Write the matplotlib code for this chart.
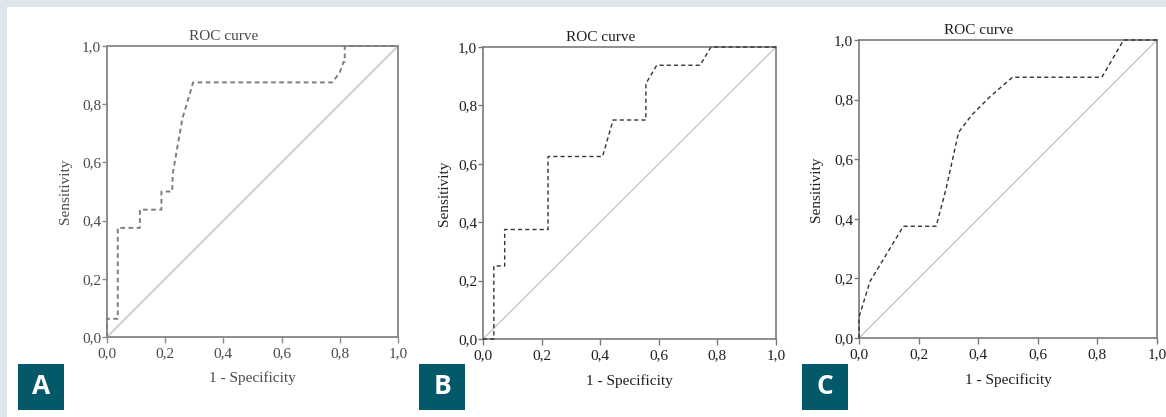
import matplotlib.pyplot as plt
from matplotlib.patches import Rectangle

# ---- data ----
tick_vals = [0.0, 0.2, 0.4, 0.6, 0.8, 1.0]
tick_labels = ["0,0", "0,2", "0,4", "0,6", "0,8", "1,0"]

a_fpr = [0.0, 0.0, 0.037, 0.037, 0.113, 0.113, 0.187, 0.187, 0.224, 0.226,
         0.259, 0.296, 0.775, 0.800, 0.813, 0.817, 0.817, 1.0]
a_tpr = [0.0, 0.0625, 0.0625, 0.375, 0.375, 0.4375, 0.4375, 0.5, 0.5, 0.5625,
         0.75, 0.875, 0.875, 0.91, 0.945, 0.945, 1.0, 1.0]

b_fpr = [0.0, 0.037, 0.037, 0.074, 0.074, 0.222, 0.222, 0.408, 0.444, 0.556,
         0.556, 0.593, 0.741, 0.778, 1.0]
b_tpr = [0.0, 0.0, 0.25, 0.25, 0.375, 0.375, 0.625, 0.625, 0.75, 0.75,
         0.875, 0.9375, 0.9375, 1.0, 1.0]

c_fpr = [0.0, 0.0, 0.037, 0.149, 0.259, 0.292, 0.334, 0.38, 0.44, 0.515,
         0.815, 0.888, 1.0]
c_tpr = [0.0, 0.07, 0.19, 0.375, 0.375, 0.5, 0.69, 0.75, 0.81, 0.875,
         0.875, 1.0, 1.0]

panel_letters = ["A", "B", "C"]

# ---- figure ----
W, H = 1166, 417
fig = plt.figure(figsize=(W / 100, H / 100), dpi=100)
fig.patch.set_facecolor("white")

# light frame strips (top / left)
fig.patches.append(Rectangle((0, 1 - 7 / H), 1, 7 / H, transform=fig.transFigure,
                             facecolor="#dce6ec", edgecolor="none", zorder=0))
fig.patches.append(Rectangle((0, 0), 7 / W, 1, transform=fig.transFigure,
                             facecolor="#dce6ec", edgecolor="none", zorder=0))

serif = ["Liberation Serif", "DejaVu Serif"]

# axes boxes in pixels: left, top, right, bottom
boxes = [(107, 46, 398, 337), (483, 47, 776, 339), (859, 40, 1157, 338)]
curves = [(a_fpr, a_tpr), (b_fpr, b_tpr), (c_fpr, c_tpr)]
ylab_x = [-0.144, -0.13, -0.144]
xlab_y = [-0.141, -0.144, -0.141]
label_box_x = [18, 419, 802]

for i, (l, t, r, b) in enumerate(boxes):
    ax = fig.add_axes([l / W, (H - b) / H, (r - l) / W, (b - t) / H])
    fpr, tpr = curves[i]
    if i == 0:
        # panel A is a softer, blurrier scan
        spine_c, text_c, curve_c, diag_c = "#8c8c8c", "#4a4a4a", "#7e7e7e", "#c8c8c8"
        curve_lw, diag_lw, spine_lw = 1.4, 1.2, 1.4
    else:
        spine_c, text_c, curve_c, diag_c = "#7a7a7a", "#1e1e1e", "#333333", "#bdbdbd"
        curve_lw, diag_lw, spine_lw = 1.0, 0.8, 1.2

    ax.plot([0, 1], [0, 1], color=diag_c, lw=diag_lw, zorder=1)
    line, = ax.plot(fpr, tpr, color=curve_c, lw=curve_lw, zorder=3, clip_on=False)
    line.set_dashes((3, 2.2) if i else (2.4, 1.8))

    ax.set_xlim(0, 1)
    ax.set_ylim(0, 1)
    ax.set_xticks(tick_vals)
    ax.set_yticks(tick_vals)
    ax.set_xticklabels(tick_labels, fontfamily=serif, fontsize=11, color=text_c)
    ax.set_yticklabels(tick_labels, fontfamily=serif, fontsize=11, color=text_c)
    ax.tick_params(axis="y", direction="out", length=3.8, width=1.0, color=spine_c, pad=0.5)
    ax.tick_params(axis="x", direction="out", length=4.5, width=1.0, color=spine_c, pad=2.5)
    for s in ax.spines.values():
        s.set_color(spine_c)
        s.set_linewidth(spine_lw)

    ax.set_ylabel("Sensitivity", fontfamily=serif, fontsize=11, color=text_c, va="center")
    ax.yaxis.set_label_coords(ylab_x[i], 0.5)
    ax.set_xlabel("1 - Specificity", fontfamily=serif, fontsize=11, color=text_c, va="center")
    ax.xaxis.set_label_coords(0.5, xlab_y[i])
    ax.annotate("ROC curve", xy=(0.40, 1.0), xycoords="axes fraction",
                xytext=(0, 7.0), textcoords="offset points", ha="center", va="center",
                fontfamily=serif, fontsize=11, color=text_c)

    # panel letter tag
    bx = label_box_x[i]
    fig.patches.append(Rectangle((bx / W, (H - 410) / H), 46 / W, 46 / H,
                                 transform=fig.transFigure, facecolor="#03596a",
                                 edgecolor="none", zorder=3))
    fig.text((bx + 23) / W, (H - 387) / H, panel_letters[i], color="white",
             fontfamily="Open Sans", fontweight="bold", fontsize=19,
             ha="center", va="center", zorder=4)

fig.savefig("out.png", dpi=100)
